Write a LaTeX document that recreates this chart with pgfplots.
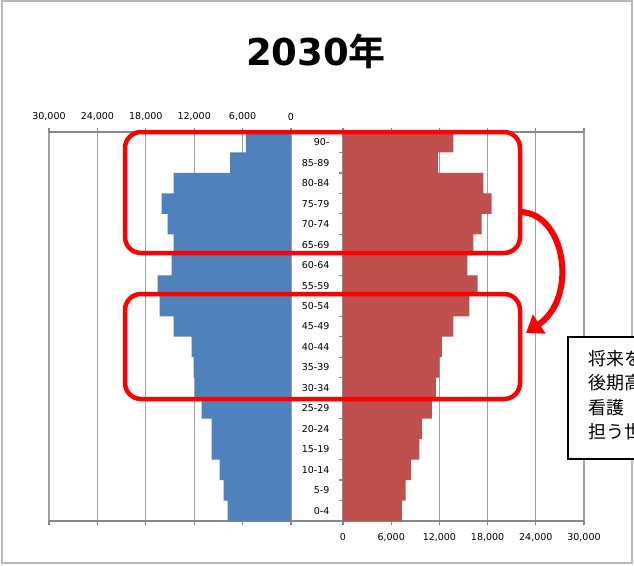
\documentclass[border=0pt]{standalone}
\usepackage{pgfplots}
\pgfplotsset{compat=1.18}
\usepackage{fontspec}
\setmainfont{DejaVu Sans}
\newfontfamily\cjk{Noto Sans CJK JP}[BoldFont={Noto Sans CJK JP Bold}]
\usetikzlibrary{arrows.meta}
\definecolor{male}{HTML}{4F81BD}
\definecolor{female}{HTML}{C0504D}
\definecolor{axisgray}{HTML}{888888}
\definecolor{gridgray}{HTML}{A0A0A0}

\pgfplotsset{pyr/.style={
    xbar, scale only axis, height=389pt,
    xmin=0, xmax=30000, ymin=-0.5, ymax=18.5,
    bar width=1,
    xtick={0,6000,...,30000},
    xmajorgrids, grid style={gridgray, line width=1.2pt},
    axis line style={axisgray, line width=2.5pt},
    tick align=outside, major tick length=4pt, minor tick length=4pt,
    tick style={axisgray, line width=1.2pt},
    scaled x ticks=false,
    /pgf/number format/1000 sep={,},
    /pgf/number format/assume math mode=true,
    tick label style={font=\fontsize{9.5}{11}\selectfont},
}}

\begin{document}
\begin{tikzpicture}
\useasboundingbox (0,0) rectangle (634pt,-565pt);
\clip (0,0) rectangle (634pt,-565pt);
\fill[white] (0,0) rectangle (634pt,-565pt);
\draw[gray!55, line width=1.5pt] (2pt,-1pt) rectangle (632pt,-563pt);

\node at (316pt,-51pt) {\fontsize{37}{40}\selectfont\bfseries 2030{\cjk\bfseries 年}};

% male
\begin{axis}[pyr, x dir=reverse, width=242pt,
    at={(49pt,-521pt)}, anchor=south west,
    hide y axis, xticklabel pos=upper,
    xticklabel style={yshift=4pt}]
\addplot[fill=male, draw=none] coordinates {
(7850,0) (8340,1) (8840,2) (9830,3) (9830,4) (11070,5) (11900,6)
(12070,7) (12310,8) (14540,9) (16280,10) (16530,11) (14790,12)
(14540,13) (15290,14) (16030,15) (14540,16) (7560,17) (5580,18)};
\end{axis}

% female
\begin{axis}[pyr, width=241pt,
    at={(343pt,-521pt)}, anchor=south west,
    axis x line*=box, axis y line*=left,
    ytick={0,...,18},
    yticklabels={0-4,5-9,10-14,15-19,20-24,25-29,30-34,35-39,40-44,45-49,50-54,55-59,60-64,65-69,70-74,75-79,80-84,85-89,90-},
    minor ytick={-0.5,0.5,...,18.5},
    major y tick style={draw=none},
    yticklabel style={xshift=-6pt},
    xticklabel style={yshift=-5pt}]
\addplot[fill=female, draw=none] coordinates {
(7330,0) (7780,1) (8490,2) (9520,3) (9810,4) (11060,5) (11550,6)
(12000,7) (12300,8) (13740,9) (15730,10) (16770,11) (15480,12)
(16220,13) (17270,14) (18510,15) (17470,16) (11800,17) (13740,18)};
\end{axis}

\draw[axisgray, line width=2.5pt] (291pt,-521pt) -- (343pt,-521pt);
\draw[axisgray, line width=2.5pt] (291pt,-132pt) -- (343pt,-132pt);

% annotations
\draw[red, line width=4.5pt, rounded corners=16pt] (125pt,-132pt) rectangle (520pt,-253pt);
\draw[red, line width=4.5pt, rounded corners=16pt] (125pt,-294pt) rectangle (520pt,-399pt);
\draw[red, line width=6pt, -{Triangle[length=16pt,width=22pt]}]
  (521pt,-212pt) .. controls (566pt,-214pt) and (578pt,-298pt) .. (526pt,-333pt);

\draw[black, line width=1.5pt, fill=white] (568pt,-337pt) rectangle (660pt,-459pt);
\node[anchor=north west, align=left, inner sep=0pt,
  font=\cjk\fontsize{18}{24.5}\selectfont] at (588pt,-350pt)
  {将来を\\後期高\\看護\\担う世};
\end{tikzpicture}
\end{document}
